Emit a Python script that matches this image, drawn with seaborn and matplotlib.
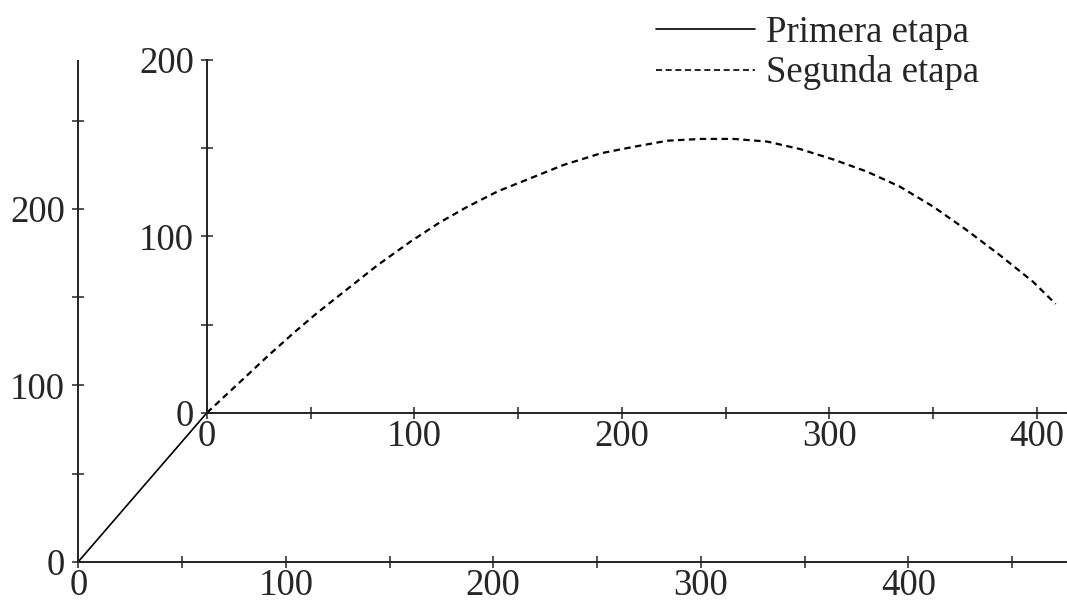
import numpy as np
import pandas as pd
import matplotlib.pyplot as plt
import seaborn as sns

# Primera etapa, en los ejes exteriores
primera_x = [0, 62]
primera_y = [0, 84.5]

# Segunda etapa, en los ejes interiores (origen = fin de la primera etapa)
segunda_x = [0, 16, 29, 42, 53, 67.5, 82, 98, 112, 125, 140, 172, 190, 206, 222, 238,
             254, 270, 286, 302, 318, 334, 350, 366, 382, 398, 409]
segunda_y = [0, 17.5, 31.8, 45.5, 56.5, 70, 83.5, 97, 107.8, 116.5, 125.5, 140.6, 147.2, 150.9,
             154.3, 155.3, 155.3, 153.8, 149.5, 143.6, 136.8, 128.2, 116.9, 103.7, 89.5, 74.4, 61.7]

# Ticks
ext_xticks = [0, 50, 100, 150, 200, 250, 300, 350, 400, 450]
ext_xlabels = ['0', '', '100', '', '200', '', '300', '', '400', '']
ext_yticks = [0, 50, 100, 150, 200, 250]
ext_ylabels = ['0', '', '100', '', '200', '']
int_xticks = [0, 50, 100, 150, 200, 250, 300, 350, 400]
int_xlabels = ['0', '', '100', '', '200', '', '300', '', '400']
int_yticks = [0, 50, 100, 150, 200]
int_ylabels = ['0', '', '100', '', '200']

sns.set_style("ticks")
plt.rcParams['font.family'] = ['Liberation Serif', 'DejaVu Serif']
fs = 26.5

W, H = 1067, 601
fig = plt.figure(figsize=(W / 100, H / 100), dpi=100)

# ejes exteriores (en pixeles)
x0, y0 = 78.3, 39.3
xmax, ymax = 476, 284.2
sx, sy = 2.075, 1.763
ax = fig.add_axes([x0 / W, y0 / H, xmax * sx / W, ymax * sy / H])
ax.set_xlim(0, xmax)
ax.set_ylim(0, ymax)

# ejes interiores, con origen al final de la primera etapa
ox = x0 + primera_x[-1] * sx
oy = y0 + primera_y[-1] * sy
ax2 = fig.add_axes([ox / W, oy / H, 414 * sx / W, 200 * sy / H])
ax2.set_xlim(0, 414)
ax2.set_ylim(0, 200)
ax2.patch.set_alpha(0)

for a, xt, xl, yt, yl in [(ax, ext_xticks, ext_xlabels, ext_yticks, ext_ylabels),
                          (ax2, int_xticks, int_xlabels, int_yticks, int_ylabels)]:
    sns.despine(ax=a)
    for s in ['left', 'bottom']:
        a.spines[s].set_linewidth(1.4)
        a.spines[s].set_color('#222222')
    a.set_xticks(xt)
    a.set_xticklabels(xl)
    a.set_yticks(yt)
    a.set_yticklabels(yl)
    a.tick_params(direction='inout', length=9, width=1.1, color='#222222', labelsize=fs)
    a.tick_params(axis='x', pad=0.5)
    a.tick_params(axis='y', pad=5)

sns.lineplot(x=primera_x, y=primera_y, ax=ax, color='black', linewidth=1.2, legend=False)
sns.lineplot(x=segunda_x, y=segunda_y, ax=ax2, color='black', linewidth=1.6,
             linestyle=(0, (2.9, 2.0)), legend=False)
for l in ax2.lines:
    l.set_clip_on(False)

h1 = plt.Line2D([], [], color='black', linewidth=1.2)
h2 = plt.Line2D([], [], color='black', linewidth=1.2, linestyle=(0, (3.6, 2.2)))
fig.legend([h1, h2], ['Primera etapa', 'Segunda etapa'], loc='upper left',
           bbox_to_anchor=(656 / W, 1 - 15 / H), frameon=False, borderpad=0, borderaxespad=0,
           handlelength=2.68, handletextpad=0.32, labelspacing=0.16, fontsize=fs)

fig.savefig('out.png', dpi=100)
